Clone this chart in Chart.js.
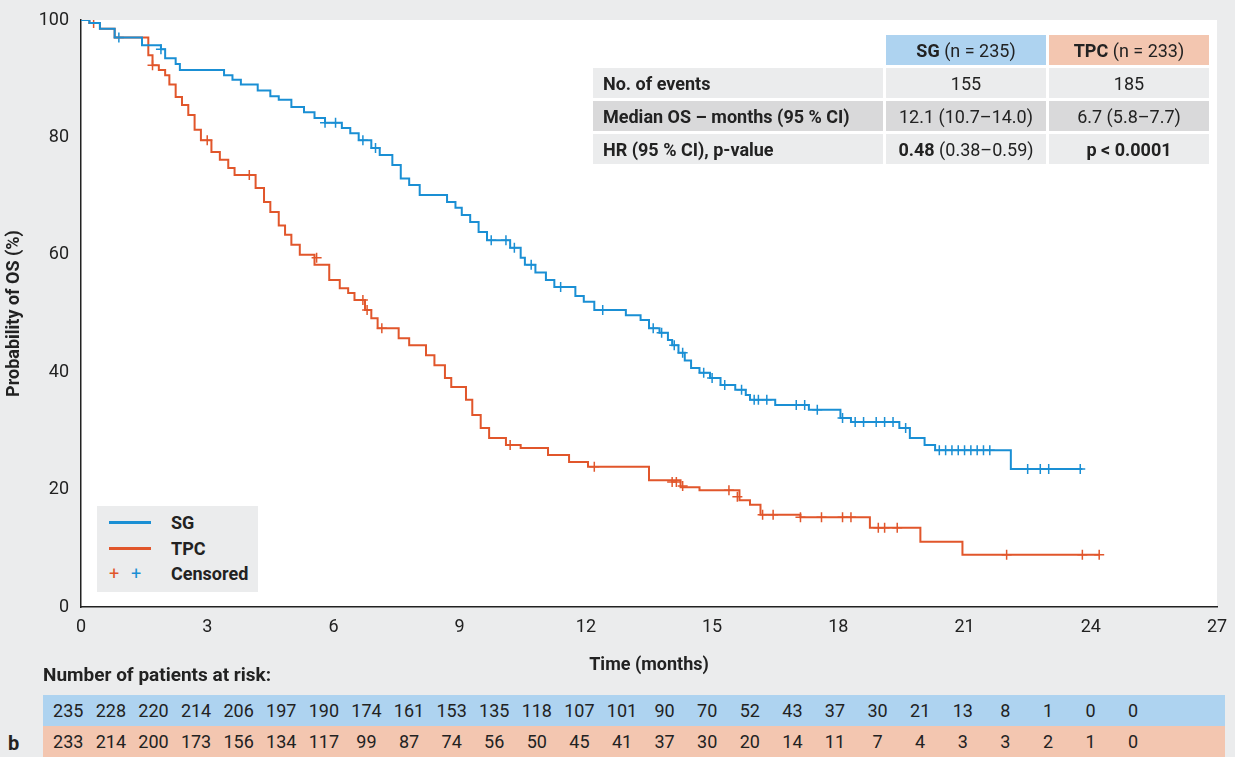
<!DOCTYPE html>
<html><head><meta charset="utf-8">
<script src="https://cdn.jsdelivr.net/npm/chart.js@4"></script>
<style>
body{margin:0;background:#ebeced;font-family:"Liberation Sans Narrow","Roboto",sans-serif;color:#222;width:1235px;height:757px;overflow:hidden;position:relative}
#wrap{position:absolute;left:0;top:0;width:1235px;height:680px}
.stats{position:absolute;left:593px;top:35px;border-collapse:separate;border-spacing:3px 3px;font-size:18px;margin:-3px}
.stats td{height:30px;padding:0 10px}
.legend{position:absolute;left:97px;top:506px;width:161px;height:86px;background:#ebeced;font-size:18px;font-weight:bold}
.legend div{position:absolute;left:12px;display:flex;align-items:center}
.risk{position:absolute;left:43px;width:1182px;height:31px;font-size:18px;display:flex;align-items:center;padding-left:4px;box-sizing:border-box}
.risk span{width:42.6px;text-align:center;display:inline-block;flex:none}
</style></head><body>
<div id="wrap"><canvas id="c"></canvas></div>
<table class="stats">
<tr><td></td><td style="background:#aed3f0;text-align:center;width:140px"><b>SG</b> (n = 235)</td><td style="background:#f3c6b0;text-align:center;width:140px"><b>TPC</b> (n = 233)</td></tr>
<tr style="background:#ebeced"><td style="font-weight:bold;width:270px">No. of events</td><td style="text-align:center">155</td><td style="text-align:center">185</td></tr>
<tr style="background:#d9d9da"><td style="font-weight:bold">Median OS – months (95 % CI)</td><td style="text-align:center">12.1 (10.7–14.0)</td><td style="text-align:center">6.7 (5.8–7.7)</td></tr>
<tr style="background:#ebeced"><td style="font-weight:bold">HR (95 % CI), p-value</td><td style="text-align:center"><b>0.48</b> (0.38–0.59)</td><td style="text-align:center"><b>p &lt; 0.0001</b></td></tr>
</table>
<div class="legend">
<div style="top:6px"><span style="display:inline-block;width:42px;height:3px;background:#1a8fd4;margin-right:20px"></span>SG</div>
<div style="top:32px"><span style="display:inline-block;width:42px;height:3px;background:#e1562b;margin-right:20px"></span>TPC</div>
<div style="top:57px"><span style="color:#e1562b;width:22px;font-weight:normal">+</span><span style="color:#1a8fd4;width:40px;font-weight:normal">+</span>Censored</div>
</div>
<div style="position:absolute;left:43px;top:663px;font-size:19px;font-weight:bold">Number of patients at risk:</div>
<div class="risk" id="r1" style="top:695px;background:#aed3f0"></div>
<div class="risk" id="r2" style="top:726px;background:#f3c6b0"></div>
<div style="position:absolute;left:8px;top:731px;font-size:20px;font-weight:bold">b</div>
<script>
const sgSteps = [[0,100],[0.2,99.5],[0.45,98.5],[0.8,97],[1.45,95.7],[1.9,95],[2.0,93.5],[2.25,92.5],[2.35,91.5],[3.4,90.6],[3.6,89.8],[3.8,89],[4.2,88],[4.5,87],[4.7,86.4],[5.0,85.2],[5.3,84.3],[5.55,83.3],[5.8,82.5],[6.2,81.6],[6.4,80.7],[6.6,79.5],[6.9,78.2],[7.1,77],[7.4,75.3],[7.6,73],[7.8,71.9],[8.05,70.2],[8.7,69],[8.9,68],[9.05,66.8],[9.25,65.6],[9.45,63.9],[9.65,62.5],[10.2,61.2],[10.45,59.5],[10.55,58.3],[10.8,57],[11.05,55.7],[11.25,54.5],[11.75,53],[11.95,52],[12.2,50.6],[12.95,49.7],[13.3,48.9],[13.5,47.5],[13.75,46.7],[13.95,45.5],[14.05,44.6],[14.2,43.3],[14.35,42],[14.5,40.7],[14.7,39.9],[14.95,39],[15.2,37.8],[15.55,37],[15.8,36.1],[15.9,35.3],[16.5,34.4],[17.3,33.6],[18.05,32.2],[18.3,31.5],[19.45,30.5],[19.7,28.8],[20.05,27.6],[20.3,26.7],[22.1,23.5],[23.8,23.5]];
const tpcSteps = [[0,100],[0.2,99.5],[0.45,98.5],[0.8,97],[1.6,94],[1.7,92.3],[1.85,91.5],[2.0,90.6],[2.1,89],[2.25,86.9],[2.4,85.5],[2.55,83.8],[2.7,81.3],[2.85,79.5],[3.1,77.5],[3.3,76.2],[3.5,74.8],[3.65,73.6],[4.15,71.4],[4.35,69],[4.5,67.3],[4.7,65],[4.85,63.4],[5.0,61.7],[5.2,60],[5.55,58.3],[5.9,55.7],[6.15,54.3],[6.35,53.5],[6.5,52.3],[6.75,50.6],[6.9,49.2],[7.05,47.5],[7.55,45.8],[7.8,44.6],[8.2,42.9],[8.4,41.2],[8.65,39],[8.8,37.5],[9.15,35.3],[9.3,32.7],[9.5,30.5],[9.7,28.8],[10.1,27.6],[10.45,27.1],[11.1,25.9],[11.6,24.7],[12.05,23.9],[13.5,21.6],[14.25,20.4],[14.7,19.9],[15.65,18.2],[15.9,17.4],[16.15,15.7],[17.1,15.3],[18.75,13.5],[19.95,11.1],[20.95,8.9],[24.2,8.9]];
const sgCensored = [[0.9,97],[1.9,95],[5.8,82.5],[6.05,82.5],[6.7,79.5],[7.0,78.2],[9.75,62.5],[10.1,62.5],[10.3,61.2],[10.7,58.3],[11.4,54.5],[12.4,50.6],[13.6,47.5],[13.8,46.7],[14.1,44.6],[14.3,43.3],[14.8,39.9],[15.0,39],[15.3,37.8],[15.7,37],[16.0,35.3],[16.1,35.3],[16.3,35.3],[17.0,34.4],[17.2,34.4],[17.5,33.6],[18.1,32.2],[18.4,31.5],[18.6,31.5],[18.9,31.5],[19.1,31.5],[19.3,31.5],[19.6,30.5],[20.4,26.7],[20.55,26.7],[20.7,26.7],[20.85,26.7],[21.0,26.7],[21.15,26.7],[21.3,26.7],[21.45,26.7],[21.6,26.7],[22.5,23.5],[22.8,23.5],[23.0,23.5],[23.75,23.5]];
const tpcCensored = [[0.3,99.5],[1.7,92.3],[3.0,79.5],[4.0,73.6],[5.6,59.5],[6.7,52.3],[6.8,50.6],[7.15,47.5],[10.2,27.6],[12.2,23.9],[14.05,21.3],[14.15,21.3],[14.3,20.6],[15.4,19.9],[15.6,18.8],[16.2,15.7],[16.45,15.7],[17.1,15.3],[17.6,15.3],[18.1,15.3],[18.3,15.3],[18.95,13.5],[19.1,13.5],[19.4,13.5],[22.0,8.9],[23.8,8.9],[24.2,8.9]];
const sgAtRisk = [235,228,220,214,206,197,190,174,161,153,135,118,107,101,90,70,52,43,37,30,21,13,8,1,0,0];
const tpcAtRisk = [233,214,200,173,156,134,117,99,87,74,56,50,45,41,37,30,20,14,11,7,4,3,3,2,1,0];

const BLUE = '#1a8fd4', RED = '#e1562b';
const pts = a => a.map(([x, y]) => ({ x, y }));
document.getElementById('r1').innerHTML = sgAtRisk.map(v => `<span>${v}</span>`).join('');
document.getElementById('r2').innerHTML = tpcAtRisk.map(v => `<span>${v}</span>`).join('');

const plotBg = { id: 'plotBg', beforeDraw(c) { const a = c.chartArea, g = c.ctx; g.save(); g.fillStyle = '#fff'; g.fillRect(a.left, a.top, a.width, a.height); g.restore(); } };
const font = { family: '"Liberation Sans Narrow", Roboto, sans-serif', size: 18 };

new Chart(document.getElementById('c'), {
  type: 'scatter',
  data: { datasets: [
    { data: pts(sgSteps), showLine: true, stepped: 'before', borderColor: BLUE, borderWidth: 2, pointRadius: 0 },
    { data: pts(tpcSteps), showLine: true, stepped: 'before', borderColor: RED, borderWidth: 2, pointRadius: 0 },
    { data: pts(sgCensored), pointStyle: 'cross', pointRadius: 5, borderColor: BLUE, borderWidth: 1.5 },
    { data: pts(tpcCensored), pointStyle: 'cross', pointRadius: 5, borderColor: RED, borderWidth: 1.5 }
  ] },
  options: {
    responsive: true, maintainAspectRatio: false, animation: false,
    layout: { padding: { top: 20, right: 18 } },
    plugins: { legend: { display: false }, tooltip: { enabled: false } },
    scales: {
      x: { type: 'linear', min: 0, max: 27, afterFit: s => { s.height = 73; },
        ticks: { stepSize: 3, color: '#222', font, padding: 2 },
        grid: { display: false, drawTicks: true, tickLength: 8, tickColor: '#222' }, border: { color: '#222', width: 1.5 },
        title: { display: true, text: 'Time (months)', color: '#222', font: { ...font, weight: 'bold' }, padding: { top: 12 } } },
      y: { min: 0, max: 100, afterFit: s => { s.width = 81; },
        ticks: { stepSize: 20, color: '#222', font, padding: 4 },
        grid: { display: false, drawTicks: true, tickLength: 8, tickColor: '#222' }, border: { color: '#222', width: 1.5 },
        title: { display: true, text: 'Probability of OS (%)', color: '#222', font: { ...font, weight: 'bold' }, padding: { bottom: 6 } } }
    }
  },
  plugins: [plotBg]
});
</script>
</body></html>
